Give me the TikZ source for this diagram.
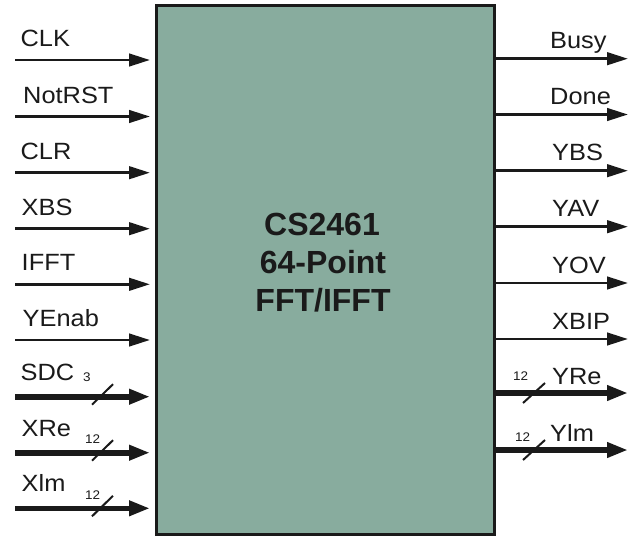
\documentclass[tikz,border=0pt]{standalone}
\usepackage{fontspec}
\setmainfont{Liberation Sans}
\newfontfamily\lblfont[FakeStretch=1.08]{Liberation Sans}
\usetikzlibrary{arrows.meta}
\definecolor{boxfill}{RGB}{136,172,158}
\definecolor{ink}{RGB}{26,26,26}
\begin{document}
\begin{tikzpicture}[x=1pt,y=-1pt,
  sig/.style={draw=ink,line width=2.9pt,-{Triangle[length=21pt,width=12.5pt]}},
  bus/.style={draw=ink,line width=5.6pt,-{Triangle[length=21pt,width=14.5pt]}},
  slash/.style={draw=ink,line width=2pt},
  lbl/.style={font=\lblfont\fontsize{23.5}{27}\selectfont,text=ink,inner sep=0pt,anchor=base west},
  num/.style={font=\lblfont\fontsize{12.5}{14}\selectfont,text=ink,inner sep=0pt,anchor=base west},
  ttl/.style={font=\fontsize{32}{38}\selectfont\bfseries,text=ink,inner sep=0pt,anchor=base}]
\useasboundingbox (0,0) rectangle (639,535);
\node[draw=ink,line width=3pt,fill=boxfill,minimum width=337.5pt,minimum height=528.5pt,
      inner sep=0pt,outer sep=0pt,anchor=north west] (blk) at (156.5,6) {};
% title
\node[ttl] (t1) at (322,235) {CS2461};
\node[ttl] (t2) at (323,273.3) {64-Point};
\node[ttl] (t3) at (323,311.7) {FFT/IFFT};
% thin inputs
\foreach \t/\y/\lx in {CLK/60/20.4, NotRST/116.5/23, CLR/172.7/20.4, XBS/228.7/21.5, IFFT/284.3/21.5, YEnab/340/22.5} {
  \coordinate (in\t) at (15,\y);
  \draw[sig,shorten >=6.5pt] (in\t) -- (in\t -| blk.west);
  \node[lbl] (l\t) at (\lx,\y-13.5) {\t};
}
% bus inputs
\foreach \t/\y/\lx in {SDC/396.7/20.5, XRe/452.7/21.5, Xlm/508.3/21.5} {
  \coordinate (in\t) at (15,\y);
  \draw[bus,shorten >=6.5pt] (in\t) -- (in\t -| blk.west);
  \node[lbl] (l\t) at (\lx,\y-16.7) {\t};
  \coordinate (sa\t) at (92,\y+8);
  \coordinate (sb\t) at (113,\y-12.5);
  \draw[slash] (sa\t) -- (sb\t);
}
\node[num] (nSDC) at (83,381.7) {3};
\node[num] (nXRe) at (85,443) {12};
\node[num] (nXlm) at (85,499) {12};
% thin outputs
\foreach \t/\y/\lx in {Busy/58.7/550, Done/114.5/550, YBS/170.7/552, YAV/226.7/552, YOV/283/552, XBIP/339/552} {
  \coordinate (out\t) at (628,\y);
  \draw[sig] (out\t -| blk.east) -- (out\t);
  \node[lbl] (l\t) at (\lx,\y-10) {\t};
}
% bus outputs
\foreach \t/\y/\lx in {YRe/393/552, Ylm/450/550} {
  \coordinate (out\t) at (628,\y);
  \draw[bus] (out\t -| blk.east) -- (out\t);
  \node[lbl] (l\t) at (\lx,\y-8.5) {\t};
  \coordinate (sa\t) at (523,\y+10);
  \coordinate (sb\t) at (545,\y-10);
  \draw[slash] (sa\t) -- (sb\t);
}
\node[num] (nYRe) at (513,380) {12};
\node[num] (nYlm) at (515,441.7) {12};
\end{tikzpicture}
\end{document}
